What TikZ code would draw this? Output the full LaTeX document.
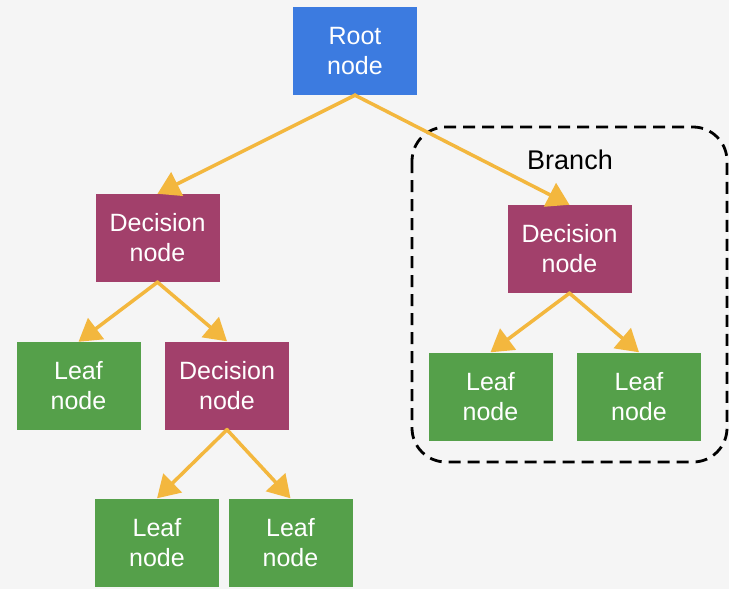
\documentclass[tikz,border=0pt]{standalone}
\usepackage{fontspec}
\setmainfont{Liberation Sans}
\usetikzlibrary{arrows.meta}
\definecolor{bgcol}{HTML}{F5F5F5}
\definecolor{rootblue}{HTML}{3C7BE0}
\definecolor{decmag}{HTML}{A2406B}
\definecolor{leafgreen}{HTML}{55A04A}
\definecolor{edgeorange}{HTML}{F3B73E}
\tikzset{
  box/.style={rectangle, minimum width=124pt, minimum height=88pt, inner sep=0pt,
    text=white, align=center, font=\fontsize{25}{30}\selectfont},
  rootbox/.style={box, fill=rootblue},
  decbox/.style={box, fill=decmag},
  leafbox/.style={box, fill=leafgreen},
  edge/.style={draw=edgeorange, line width=3.5pt,
    -{Triangle[length=22pt,width=26pt]}, shorten <=-1pt},
  branchbox/.style={draw=black, line width=2.8pt, dash pattern=on 12pt off 7pt,
    rounded corners=34pt}
}
\begin{document}
\begin{tikzpicture}[x=1pt,y=-1pt]
  \fill[bgcol] (0,0) rectangle (729,589);
  \useasboundingbox (0,0) rectangle (729,589);

  % dashed frame around the right-hand branch
  \draw[branchbox] (412,127) rectangle (727,462);
  \node[font=\fontsize{27}{30}\selectfont, text=black] (branch) at (570,160) {Branch};

  % tree nodes
  \node[rootbox] (root) at (355,51) {Root\\node};
  \node[decbox]  (decL) at (157.5,238) {Decision\\node};
  \node[decbox]  (decR) at (569.5,249) {Decision\\node};
  \node[leafbox] (leafL) at (78.5,386) {Leaf\\node};
  \node[decbox]  (decM) at (227,385.5) {Decision\\node};
  \node[leafbox] (leafB1) at (157,542.5) {Leaf\\node};
  \node[leafbox] (leafB2) at (290.5,542.5) {Leaf\\node};
  \node[leafbox] (leafR1) at (490.5,396.5) {Leaf\\node};
  \node[leafbox] (leafR2) at (639,396.5) {Leaf\\node};

  % edges
  \draw[edge] (root.south) -- (decL.north);
  \draw[edge] (root.south) -- (decR.north);
  \draw[edge] (decL.south) -- (leafL.north);
  \draw[edge] (decL.south) -- (decM.north);
  \draw[edge] (decM.south) -- (leafB1.north);
  \draw[edge] (decM.south) -- (leafB2.north);
  \draw[edge] (decR.south) -- (leafR1.north);
  \draw[edge] (decR.south) -- (leafR2.north);
\end{tikzpicture}
\end{document}
